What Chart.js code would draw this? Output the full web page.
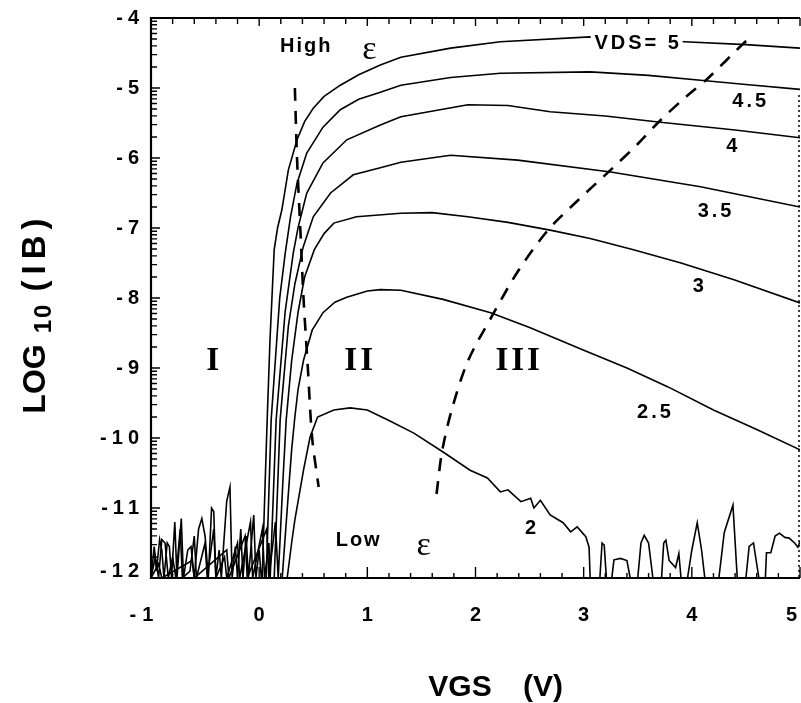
<!DOCTYPE html>
<html>
<head>
<meta charset="utf-8">
<script src="https://cdn.jsdelivr.net/npm/chart.js@4.4.1/dist/chart.umd.min.js"></script>
<style>
  html, body { margin: 0; padding: 0; background: #fff; }
  #wrap { width: 801px; height: 703px; }
</style>
</head>
<body>
<div id="wrap"><canvas id="ibChart" width="801" height="703"></canvas></div>
<script>
// VGS (V) and log10(IB), one pair of arrays per VDS
const vgs5 = [-1.0, -0.97, -0.95, -0.92, -0.9, -0.88, -0.85, -0.83, -0.81, -0.78, -0.76, -0.72, -0.7, -0.66, -0.63, -0.6, -0.56, -0.53, -0.5, -0.47, -0.44, -0.42, -0.4, -0.37, -0.35, -0.3, -0.27, -0.25, -0.22, -0.2, -0.17, -0.15, -0.12, -0.1, -0.05, -0.03, 0.0, 0.02, 0.028, 0.05, 0.074, 0.1, 0.139, 0.17, 0.21, 0.27, 0.35, 0.42, 0.5, 0.6, 0.75, 0.92, 1.12, 1.31, 1.77, 2.23, 3.06, 3.93, 4.5, 5.0];
const logIb5 = [-12, -11.55, -11.9, -11.45, -11.6, -12, -11.5, -11.55, -12, -11.2, -12, -11.15, -12, -11.6, -11.55, -12, -11.3, -11.15, -11.4, -12, -11.0, -11.05, -12, -11.6, -12, -10.9, -10.7, -12, -11.55, -12, -11.3, -12, -11.4, -12, -11.1, -12, -11.6, -12, -12, -10.9, -9.74, -8.6, -7.31, -7.0, -6.74, -6.17, -5.74, -5.48, -5.29, -5.12, -4.96, -4.81, -4.67, -4.56, -4.43, -4.34, -4.27, -4.34, -4.38, -4.43];

const vgs45 = [-1.0, 0.065, 0.111, 0.19, 0.241, 0.29, 0.35, 0.44, 0.59, 0.75, 0.92, 1.12, 1.31, 1.77, 2.23, 3.06, 3.6, 4.08, 4.5, 5.0];
const logIb45 = [-12, -12, -9.74, -8.0, -7.36, -6.84, -6.36, -5.93, -5.56, -5.31, -5.16, -5.06, -4.96, -4.85, -4.79, -4.77, -4.82, -4.89, -4.95, -5.02];

const vgs4 = [-1.0, -0.96, -0.93, -0.9, -0.87, -0.84, -0.8, -0.77, -0.73, -0.71, -0.64, -0.6, -0.58, -0.5, -0.48, -0.42, -0.4, -0.32, -0.3, -0.2, -0.18, -0.08, -0.06, 0.03, 0.05, 0.09, 0.102, 0.157, 0.24, 0.315, 0.36, 0.44, 0.59, 0.81, 1.12, 1.31, 1.93, 2.3, 2.69, 3.2, 3.71, 4.4, 5.0];
const logIb4 = [-12, -11.7, -12, -11.45, -11.5, -12, -11.7, -12, -11.3, -12, -11.9, -11.4, -12, -11.5, -12, -11.3, -12, -11.7, -12, -11.5, -12, -11.2, -12, -11.3, -12, -11.5, -12, -9.74, -8.2, -7.36, -6.99, -6.5, -6.07, -5.74, -5.53, -5.41, -5.24, -5.25, -5.34, -5.4, -5.49, -5.6, -5.71];

const vgs35 = [-1.0, 0.139, 0.194, 0.27, 0.33, 0.407, 0.5, 0.66, 0.87, 1.12, 1.31, 1.77, 2.39, 3.25, 4.08, 5.0];
const logIb35 = [-12, -12, -9.74, -8.4, -7.8, -7.27, -6.84, -6.5, -6.24, -6.14, -6.06, -5.96, -6.03, -6.2, -6.41, -6.7];

const vgs3 = [-1.0, -0.93, -0.9, -0.62, -0.6, -0.3, -0.28, -0.13, -0.11, 0.07, 0.09, 0.15, 0.176, 0.22, 0.25, 0.3, 0.36, 0.42, 0.51, 0.6, 0.69, 0.9, 1.31, 1.6, 1.93, 2.3, 2.69, 3.06, 3.46, 3.9, 4.39, 5.0];
const logIb3 = [-12, -11.8, -12, -11.75, -12, -11.6, -12, -11.4, -12, -11.3, -12, -11.2, -12, -10.6, -9.74, -8.9, -8.2, -7.7, -7.31, -7.08, -6.93, -6.84, -6.79, -6.78, -6.84, -6.92, -7.03, -7.15, -7.31, -7.5, -7.74, -8.07];

const vgs25 = [-1.0, 0.213, 0.26, 0.3, 0.33, 0.36, 0.41, 0.49, 0.59, 0.7, 0.81, 1.0, 1.12, 1.31, 1.7, 2.14, 2.5, 2.99, 3.4, 3.78, 4.2, 4.6, 5.0];
const logIb25 = [-12, -12, -11.0, -10.17, -9.7, -9.3, -8.89, -8.46, -8.21, -8.06, -7.99, -7.9, -7.88, -7.89, -8.02, -8.21, -8.42, -8.74, -9.0, -9.27, -9.6, -9.88, -10.17];

const vgs2 = [-1.0, 0.259, 0.3, 0.33, 0.41, 0.47, 0.54, 0.69, 0.84, 1.0, 1.2, 1.43, 1.7, 1.95, 2.11, 2.23, 2.3, 2.42, 2.51, 2.54, 2.6, 2.69, 2.81, 2.88, 2.94, 3.02, 3.05, 3.06, 3.15, 3.17, 3.19, 3.21, 3.26, 3.28, 3.34, 3.4, 3.43, 3.5, 3.53, 3.56, 3.6, 3.64, 3.72, 3.74, 3.76, 3.79, 3.85, 3.88, 3.9, 3.96, 4.0, 4.05, 4.09, 4.12, 4.25, 4.3, 4.38, 4.42, 4.5, 4.53, 4.57, 4.62, 4.68, 4.69, 4.73, 4.77, 4.81, 4.86, 4.9, 4.95, 4.98, 5.0];
const logIb2 = [-12, -12, -11.5, -11.17, -10.46, -9.99, -9.7, -9.6, -9.57, -9.6, -9.75, -9.93, -10.2, -10.46, -10.57, -10.77, -10.74, -10.91, -10.86, -11.0, -10.89, -11.1, -11.21, -11.34, -11.27, -11.41, -11.56, -12, -12, -11.5, -11.53, -12, -12, -11.74, -11.72, -11.75, -12, -12, -11.5, -11.39, -11.5, -12, -12, -11.5, -11.46, -11.75, -11.85, -11.65, -12, -12, -11.6, -11.21, -11.6, -12, -12, -11.35, -10.96, -12, -12, -11.55, -11.5, -12, -12, -11.64, -11.64, -11.4, -11.36, -11.42, -11.43, -11.5, -11.56, -11.48];

// dashed boundaries between regions I / II and II / III
const edgeLowVgs = [0.33, 0.35, 0.38, 0.41, 0.45, 0.49, 0.55];
const edgeLowIb = [-5.0, -6.0, -7.0, -8.0, -9.0, -10.0, -10.7];
const edgeHighVgs = [1.64, 1.69, 1.78, 1.93, 2.17, 2.4, 2.67, 2.95, 3.25, 3.5, 3.71, 3.95, 4.15, 4.48, 4.56];
const edgeHighIb = [-10.8, -10.2, -9.6, -8.9, -8.21, -7.6, -7.03, -6.6, -6.17, -5.8, -5.46, -5.12, -4.86, -4.36, -4.27];

// axis ranges
const vgsTicks = [-1, 0, 1, 2, 3, 4, 5];
const logTicks = [-12, -11, -10, -9, -8, -7, -6, -5, -4];

// text on the plot: [text, vgs, log10(IB)]
const curveLabels = [
  ['4.5', 4.53, -5.19], ['4', 4.37, -5.83], ['3.5', 4.21, -6.76],
  ['3', 4.06, -7.84], ['2.5', 3.65, -9.64], ['2', 2.51, -11.29]
];
const regionLabels = [['I', -0.43, -8.91], ['II', 0.92, -8.91], ['III', 2.39, -8.91]];

function toPoints(xs, ys) {
  return xs.map((v, i) => ({ x: v, y: ys[i] }));
}

const solid = (xs, ys) => ({
  data: toPoints(xs, ys),
  showLine: true,
  borderColor: '#000',
  borderWidth: 1.6,
  pointRadius: 0,
  tension: 0
});
const dashed = (xs, ys) => ({
  data: toPoints(xs, ys),
  showLine: true,
  borderColor: '#000',
  borderWidth: 2.6,
  borderDash: [13, 10],
  pointRadius: 0,
  tension: 0.3
});

const SANS = '"Liberation Sans", Arial, sans-serif';

const framePlugin = {
  id: 'frame',
  afterDatasetsDraw(chart) {
    const { ctx, chartArea: a, scales } = chart;
    const sx = scales.x, sy = scales.y;
    ctx.save();
    ctx.strokeStyle = '#000';

    // box (top, left, bottom solid; right dotted)
    ctx.lineWidth = 2.2;
    ctx.beginPath();
    ctx.moveTo(a.right, a.top); ctx.lineTo(a.left, a.top);
    ctx.lineTo(a.left, a.bottom); ctx.lineTo(a.right, a.bottom);
    ctx.stroke();
    ctx.lineWidth = 1.5;
    ctx.setLineDash([2, 3]);
    ctx.beginPath();
    ctx.moveTo(a.right - 1, sy.getPixelForValue(-5.1));
    ctx.lineTo(a.right - 1, a.bottom);
    ctx.stroke();
    ctx.setLineDash([]);

    // inward ticks, x every 0.2 V
    ctx.lineWidth = 1.4;
    ctx.beginPath();
    for (let i = 0; i <= 30; i++) {
      const px = sx.getPixelForValue(-1 + i * 0.2);
      const major = i % 5 === 0;
      ctx.moveTo(px, a.bottom); ctx.lineTo(px, a.bottom - (major ? 11 : 5));
      ctx.moveTo(px, a.top); ctx.lineTo(px, a.top + (major ? 8 : 6));
    }
    // log minor ticks on y
    for (let d = -12; d <= -4; d++) {
      for (let k = 1; k <= 9; k++) {
        const v = d + Math.log10(k);
        if (v > -4) break;
        const py = sy.getPixelForValue(v);
        ctx.moveTo(a.left, py); ctx.lineTo(a.left + (k === 1 ? 9 : 6), py);
      }
    }
    ctx.stroke();

    // tick labels, widely spaced like the original
    ctx.fillStyle = '#000';
    ctx.font = 'bold 20px ' + SANS;
    ctx.letterSpacing = '5px';
    ctx.textBaseline = 'middle';
    ctx.textAlign = 'right';
    logTicks.forEach(v => {
      const py = Math.min(sy.getPixelForValue(v), a.bottom - 7);
      ctx.fillText(String(v), a.left - 7, py);
    });
    ctx.letterSpacing = '6px';
    ctx.textAlign = 'center';
    vgsTicks.forEach(v => {
      const t = String(v);
      const w = ctx.measureText(t).width;
      let px = sx.getPixelForValue(v) + (v < 0 ? -6.5 : 3);
      px = Math.min(px, chart.width - w / 2 + 2);
      ctx.fillText(t, px, a.bottom + 37);
    });

    // curve labels
    ctx.font = 'bold 20px ' + SANS;
    ctx.letterSpacing = '3px';
    curveLabels.forEach(([t, vx, vy]) => {
      ctx.fillText(t, sx.getPixelForValue(vx) + 1.5, sy.getPixelForValue(vy));
    });

    // VDS=5 label sits on its curve with a white gap
    const lx = sx.getPixelForValue(3.49), ly = sy.getPixelForValue(-4.36);
    ctx.fillStyle = '#fff';
    ctx.fillRect(lx - 46, ly - 10, 92, 20);
    ctx.fillStyle = '#000';
    ctx.fillText('VDS= 5', lx + 1.5, ly);

    ctx.letterSpacing = '2px';
    ctx.fillText('High', sx.getPixelForValue(0.435), sy.getPixelForValue(-4.41));
    ctx.fillText('Low', sx.getPixelForValue(0.92), sy.getPixelForValue(-11.47));
    ctx.letterSpacing = '0px';
    ctx.font = '34px "Liberation Serif", "DejaVu Serif", serif';
    ctx.fillText('ε', sx.getPixelForValue(1.02), sy.getPixelForValue(-4.46));
    ctx.fillText('ε', sx.getPixelForValue(1.52), sy.getPixelForValue(-11.55));

    ctx.font = 'bold 33px "Liberation Serif", "Times New Roman", serif';
    ctx.letterSpacing = '3px';
    regionLabels.forEach(([t, vx, vy]) => {
      ctx.fillText(t, sx.getPixelForValue(vx) + 1.5, sy.getPixelForValue(vy));
    });
    ctx.letterSpacing = '0px';

    // axis titles
    ctx.font = 'bold 30px ' + SANS;
    ctx.textBaseline = 'alphabetic';
    ctx.fillText('VGS', 460, 696);
    ctx.fillText('(V)', 543, 696);

    ctx.save();
    ctx.translate(45, 0);
    ctx.rotate(-Math.PI / 2);
    ctx.textAlign = 'center';
    ctx.font = 'bold 32px ' + SANS;
    ctx.fillText('LOG', -379, 0);
    ctx.font = 'bold 24px ' + SANS;
    ctx.letterSpacing = '2px';
    ctx.fillText('10', -318, 6);
    ctx.font = 'bold 33px ' + SANS;
    ctx.letterSpacing = '6px';
    ctx.fillText('(IB)', -252, 0);
    ctx.restore();

    ctx.restore();
  }
};

new Chart(document.getElementById('ibChart'), {
  type: 'scatter',
  data: {
    datasets: [
      solid(vgs5, logIb5),
      solid(vgs45, logIb45),
      solid(vgs4, logIb4),
      solid(vgs35, logIb35),
      solid(vgs3, logIb3),
      solid(vgs25, logIb25),
      solid(vgs2, logIb2),
      dashed(edgeLowVgs, edgeLowIb),
      dashed(edgeHighVgs, edgeHighIb)
    ]
  },
  options: {
    responsive: false,
    animation: false,
    devicePixelRatio: 1,
    layout: { padding: { top: 18, right: 1, left: 0, bottom: 0 } },
    plugins: { legend: { display: false }, tooltip: { enabled: false } },
    scales: {
      x: {
        type: 'linear',
        min: vgsTicks[0],
        max: vgsTicks[vgsTicks.length - 1],
        afterFit: s => { s.height = 125; s.paddingLeft = 0; s.paddingRight = 0; },
        afterBuildTicks: s => { s.ticks = vgsTicks.map(v => ({ value: v })); },
        grid: { display: false, drawTicks: false },
        border: { display: false },
        ticks: { display: false }
      },
      y: {
        type: 'linear',
        min: logTicks[0],
        max: logTicks[logTicks.length - 1],
        afterFit: s => { s.width = 151; s.paddingTop = 0; s.paddingBottom = 0; },
        afterBuildTicks: s => { s.ticks = logTicks.map(v => ({ value: v })); },
        grid: { display: false, drawTicks: false },
        border: { display: false },
        ticks: { display: false }
      }
    }
  },
  plugins: [framePlugin]
});
</script>
</body>
</html>
